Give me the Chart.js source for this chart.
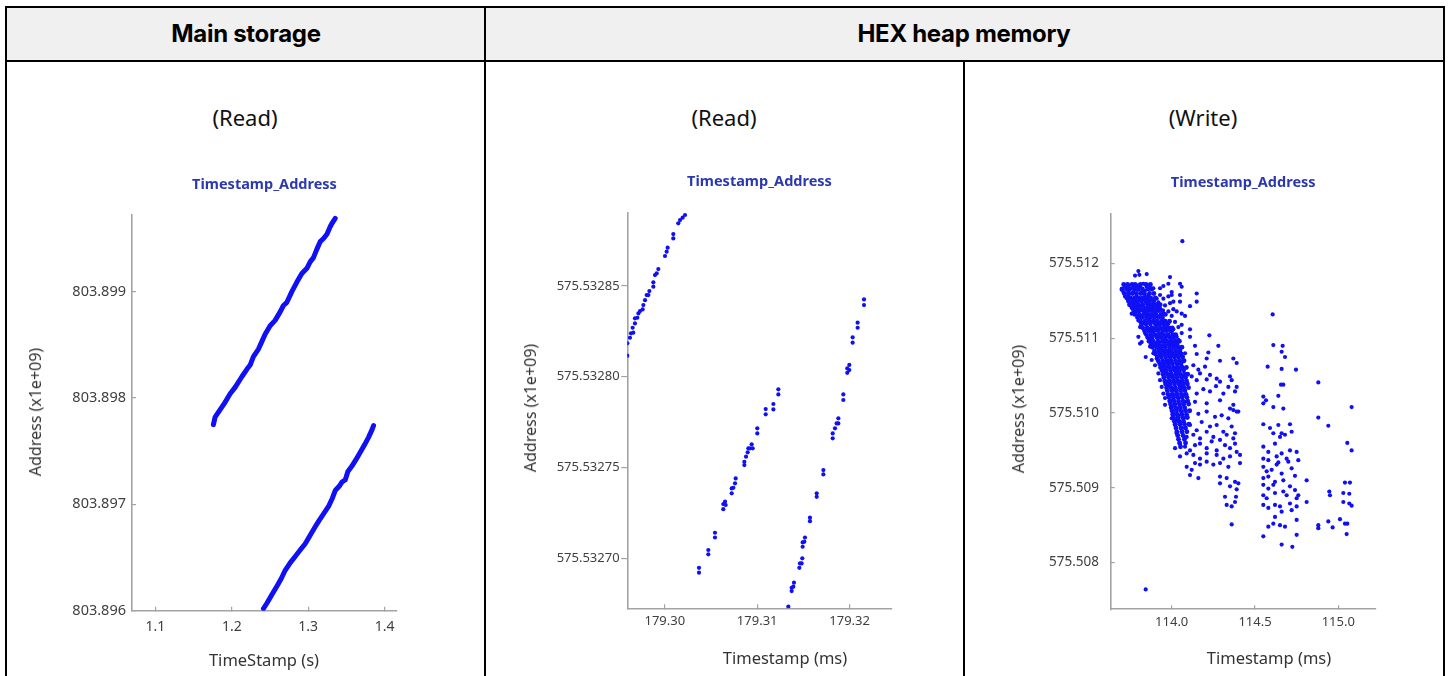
<!DOCTYPE html>
<html>
<head>
<meta charset="utf-8">
<script src="https://cdn.jsdelivr.net/npm/chart.js@4.4.1/dist/chart.umd.min.js"></script>
<style>
  html, body { margin: 0; padding: 0; background: #fff; }
  #page { position: relative; width: 1451px; height: 676px; overflow: hidden; font-family: "Noto Sans", sans-serif; }
  .rule { position: absolute; background: #000; }
  .head { position: absolute; left: 7px; top: 8px; width: 1436px; height: 52px; background: #f0f0f0; }
  .htxt { position: absolute; top: 33px; transform: translate(-50%, -50%); font-family: Inter, sans-serif; font-weight: 700; font-size: 24px; color: #000; white-space: nowrap; letter-spacing: -0.3px; }
  .mode { position: absolute; top: 117px; transform: translate(-50%, -50%); font-size: 22px; color: #111; white-space: nowrap; }
  .xt { position: absolute; transform: translate(-50%, -50%); font-size: 16.5px; color: #333; white-space: nowrap; }
  .yt { position: absolute; transform: translate(-50%, -50%) rotate(-90deg); font-size: 16px; color: #333; white-space: nowrap; }
  canvas { position: absolute; }
</style>
</head>
<body>
<div id="page">
  <div class="head"></div>
  <div class="rule" style="left:5px;top:6px;width:1440px;height:2px"></div>
  <div class="rule" style="left:5px;top:60px;width:1440px;height:2px"></div>
  <div class="rule" style="left:5px;top:6px;width:2px;height:670px"></div>
  <div class="rule" style="left:1443px;top:6px;width:2px;height:670px"></div>
  <div class="rule" style="left:484px;top:6px;width:2px;height:670px"></div>
  <div class="rule" style="left:963px;top:60px;width:2px;height:616px"></div>

  <div class="htxt" style="left:246px">Main storage</div>
  <div class="htxt" style="left:964px">HEX heap memory</div>

  <div class="mode" style="left:245px">(Read)</div>
  <div class="mode" style="left:724px">(Read)</div>
  <div class="mode" style="left:1203px">(Write)</div>

  <canvas id="c1" width="400" height="516" style="left:20px;top:160px"></canvas>
  <canvas id="c2" width="420" height="516" style="left:500px;top:160px"></canvas>
  <canvas id="c3" width="440" height="516" style="left:990px;top:160px"></canvas>

  <div class="xt" style="left:264px;top:659px">TimeStamp (s)</div>
  <div class="xt" style="left:785px;top:657px">Timestamp (ms)</div>
  <div class="xt" style="left:1269px;top:657px">Timestamp (ms)</div>

  <div class="yt" style="left:35px;top:412px">Address (x1e+09)</div>
  <div class="yt" style="left:530px;top:408px">Address (x1e+09)</div>
  <div class="yt" style="left:1018px;top:409px">Address (x1e+09)</div>
</div>

<script>
// ---- Main storage, read accesses (time in s, address x1e+09) ----
const storageRunATime = [1.1759,1.1781,1.1847,1.1912,1.1978,1.2043,1.2131,1.2197,1.2240,1.2283,1.2349,1.2393,1.2436,1.2502,1.2567,1.2633,1.2676,1.2721,1.2786,1.2852,1.2917,1.2983,1.3026,1.3069,1.3114,1.3157,1.3201,1.3245,1.3288,1.3318,1.3354];
const storageRunAAddr = [803.89775,803.89782,803.89789,803.89796,803.89804,803.89810,803.89820,803.89827,803.89831,803.89839,803.89846,803.89853,803.89860,803.89868,803.89873,803.89881,803.89887,803.89890,803.89900,803.89909,803.89917,803.89922,803.89928,803.89932,803.89940,803.89947,803.89950,803.89954,803.89961,803.89965,803.89969];
const storageRunBTime = [1.2414,1.2459,1.2524,1.2590,1.2646,1.2699,1.2764,1.2830,1.2895,1.2961,1.3026,1.3092,1.3144,1.3201,1.3266,1.3318,1.3354,1.3406,1.3442,1.3485,1.3520,1.3573,1.3625,1.3682,1.3738,1.3790,1.3835,1.3856];
const storageRunBAddr = [803.89602,803.89607,803.89615,803.89623,803.89630,803.89638,803.89645,803.89651,803.89657,803.89663,803.89671,803.89679,803.89685,803.89691,803.89698,803.89706,803.89713,803.89717,803.89721,803.89723,803.89731,803.89736,803.89742,803.89749,803.89756,803.89763,803.89770,803.89774];
const storageTimeTicks = [1.1, 1.2, 1.3, 1.4];
const storageAddrTicks = [803.896, 803.897, 803.898, 803.899];

// ---- HEX heap memory, read accesses (time in ms, address x1e+09) ----
const heapReadRun1 = [
  [179.29594,575.5328116],[179.29594,575.5328184],[179.29623,575.5328215],[179.29634,575.5328239],
  [179.29659,575.5328243],[179.29652,575.5328270],[179.29677,575.5328294],[179.29677,575.5328322],
  [179.29703,575.5328325],[179.29714,575.5328349],[179.29732,575.5328362],[179.29760,575.5328371],
  [179.29768,575.5328395],[179.29786,575.5328422],[179.29804,575.5328450],[179.29822,575.5328450],
  [179.29833,575.5328472],[179.29876,575.5328496],[179.29876,575.5328520],[179.29894,575.5328560],
  [179.29912,575.5328569],[179.29930,575.5328593],[179.30002,575.5328665],[179.30020,575.5328689],
  [179.30031,575.5328711],[179.30092,575.5328762],[179.30092,575.5328786],[179.30146,575.5328845],
  [179.30165,575.5328863],[179.30193,575.5328876],[179.30219,575.5328891]
];
const heapReadRun2 = [
  [179.30370,575.5326948],[179.30370,575.5326921],[179.30471,575.5327046],[179.30471,575.5327022],
  [179.30543,575.5327141],[179.30543,575.5327115],[179.30633,575.5327299],[179.30633,575.5327271],
  [179.30652,575.5327312],[179.30659,575.5327294],[179.30724,575.5327385],[179.30724,575.5327358],
  [179.30742,575.5327389],[179.30760,575.5327413],[179.30767,575.5327440],[179.30861,575.5327532],
  [179.30861,575.5327514],[179.30879,575.5327560],[179.30897,575.5327584],[179.30904,575.5327606],
  [179.30922,575.5327606],[179.30940,575.5327628],[179.30951,575.5327606],[179.31001,575.5327716],
  [179.31001,575.5327688],[179.31092,575.5327822],[179.31092,575.5327793],[179.31175,575.5327850],
  [179.31175,575.5327820],[179.31229,575.5327931],[179.31229,575.5327903]
];
const heapReadRun3 = [
  [179.31337,575.5326734],[179.31373,575.5326820],[179.31373,575.5326838],[179.31391,575.5326844],
  [179.31398,575.5326866],[179.31456,575.5326948],[179.31463,575.5326972],[179.31481,575.5326972],
  [179.31488,575.5327000],[179.31492,575.5327064],[179.31492,575.5327088],[179.31510,575.5327092],
  [179.31517,575.5327115],[179.31571,575.5327224],[179.31571,575.5327205],[179.31644,575.5327358],
  [179.31644,575.5327339],[179.31716,575.5327486],[179.31716,575.5327462],[179.31817,575.5327688],
  [179.31817,575.5327661],[179.31842,575.5327716],[179.31860,575.5327743],[179.31878,575.5327771],
  [179.31878,575.5327743],[179.31932,575.5327903],[179.31932,575.5327872],[179.31975,575.5328022],
  [179.31975,575.5328046],[179.31997,575.5328065],[179.31997,575.5328037],[179.32033,575.5328217],
  [179.32033,575.5328188],[179.32087,575.5328298],[179.32087,575.5328270],[179.32156,575.5328426],
  [179.32156,575.5328395]
];
const heapReadTimeTicks = [179.30, 179.31, 179.32];
const heapReadAddrTicks = [575.53270, 575.53275, 575.53280, 575.53285];

// ---- HEX heap memory, write accesses (time in ms, address x1e+09) ----
// dense early burst, listed row by row: [address, [timestamps...]]
const heapWriteCoreRows = [
  [575.51172, [113.712,113.735,113.762,113.781,113.812,113.846,113.872]],
  [575.51166, [113.702,113.728,113.748,113.776,113.797,113.824,113.858,113.881]],
  [575.51160, [113.716,113.742,113.765,113.789,113.815,113.836,113.867,113.893]],
  [575.51154, [113.731,113.752,113.778,113.803,113.827,113.851,113.874,113.902]],
  [575.51150, [113.740,113.766,113.796,113.819,113.843,113.866,113.892]],
  [575.51145, [113.747,113.773,113.798,113.826,113.857,113.879,113.907,113.931]],
  [575.51141, [113.762,113.787,113.811,113.838,113.862,113.888,113.914]],
  [575.51137, [113.772,113.803,113.829,113.853,113.876,113.899,113.922,113.946]],
  [575.51132, [113.779,113.806,113.832,113.861,113.884,113.907,113.936,113.962]],
  [575.51128, [113.795,113.821,113.848,113.872,113.896,113.921,113.944]],
  [575.51123, [113.812,113.838,113.866,113.889,113.911,113.938,113.961,113.987]],
  [575.51119, [113.818,113.846,113.872,113.902,113.928,113.951,113.973]],
  [575.51114, [113.826,113.853,113.882,113.907,113.934,113.957,113.985,114.003]],
  [575.51110, [113.837,113.862,113.893,113.918,113.946,113.968,113.992]],
  [575.51105, [113.848,113.874,113.899,113.926,113.952,113.978,114.006,114.024]],
  [575.51101, [113.856,113.883,113.912,113.937,113.963,113.989,114.012]],
  [575.51096, [113.864,113.889,113.918,113.944,113.971,113.997,114.021,114.046]],
  [575.51092, [113.877,113.903,113.927,113.956,113.982,114.006,114.032]],
  [575.51088, [113.884,113.911,113.938,113.962,113.988,114.013,114.038,114.061]],
  [575.51083, [113.897,113.922,113.948,113.973,113.999,114.024,114.049]],
  [575.51079, [113.903,113.931,113.956,113.982,114.006,114.031,114.057]],
  [575.51075, [113.914,113.938,113.964,113.991,114.016,114.041,114.066]],
  [575.51070, [113.919,113.946,113.972,113.997,114.023,114.048,114.074]],
  [575.51066, [113.928,113.953,113.979,114.004,114.031,114.056]],
  [575.51061, [113.933,113.961,113.986,114.011,114.038,114.063,114.088]],
  [575.51057, [113.942,113.967,113.993,114.018,114.044,114.071]],
  [575.51052, [113.948,113.974,113.998,114.026,114.051,114.077,114.096]],
  [575.51048, [113.953,113.981,114.006,114.031,114.058,114.083]],
  [575.51043, [113.958,113.986,114.012,114.037,114.063,114.089]],
  [575.51039, [113.963,113.991,114.017,114.043,114.069,114.094]],
  [575.51034, [113.969,113.996,114.022,114.049,114.074,114.101]],
  [575.51030, [113.974,114.001,114.027,114.054,114.079]],
  [575.51025, [113.978,114.006,114.031,114.058,114.086]],
  [575.51021, [113.983,114.011,114.036,114.063,114.091]],
  [575.51016, [113.988,114.015,114.041,114.068,114.096]],
  [575.51012, [113.993,114.019,114.046,114.072,114.102]],
  [575.51007, [113.997,114.024,114.051,114.078]],
  [575.51003, [114.002,114.028,114.054,114.083,114.108]],
  [575.50998, [114.006,114.033,114.061,114.089]],
  [575.50994, [114.011,114.038,114.066,114.094]],
  [575.50989, [114.016,114.044,114.071]],
  [575.50985, [114.021,114.049,114.077,114.104]],
  [575.50980, [114.026,114.056,114.083]],
  [575.50975, [114.031,114.062,114.091]],
  [575.50970, [114.036,114.068]],
  [575.50965, [114.041,114.076]],
  [575.50960, [114.047,114.083]],
  [575.50955, [114.053]]
];
const heapWriteEarly = [
  [114.064,575.51230],[113.780,575.51184],[113.800,575.51190],[113.806,575.51185],[113.850,575.51186],[113.990,575.51182],
  [113.700,575.51165],[113.720,575.51169],[113.740,575.51171],[113.754,575.51167],[113.770,575.51170],[113.790,575.51171],
  [113.810,575.51169],[113.830,575.51173],[113.850,575.51169],[113.870,575.51171],[113.890,575.51167],[113.710,575.51162],
  [113.740,575.51162],[113.770,575.51162],[113.800,575.51165],[113.820,575.51162],[113.840,575.51164],[113.930,575.51167],
  [113.950,575.51170],[113.980,575.51173],[114.000,575.51162],[114.050,575.51173],[114.060,575.51169],[114.150,575.51160],
  [113.720,575.51156],[113.740,575.51158],[113.760,575.51153],[113.790,575.51156],[113.820,575.51153],[113.840,575.51156],
  [113.860,575.51158],[113.880,575.51151],[113.910,575.51153],[113.930,575.51158],[113.950,575.51153],[113.980,575.51156],
  [114.000,575.51158],[114.010,575.51149],[114.050,575.51158],[114.050,575.51149],[114.150,575.51149],[113.750,575.51147],
  [113.780,575.51149],[113.810,575.51144],[113.850,575.51147],[113.890,575.51146],[113.920,575.51148],[113.960,575.51144],
  [113.990,575.51147],[114.110,575.51143],[113.760,575.51133],[113.790,575.51136],[113.820,575.51138],[113.840,575.51134],
  [113.870,575.51139],[113.900,575.51136],[113.930,575.51140],[113.950,575.51133],[113.980,575.51136],[114.010,575.51139],
  [114.030,575.51136],[114.060,575.51133],[113.810,575.51130],[113.850,575.51131],[113.910,575.51130],[114.000,575.51130],
  [114.080,575.51130],[113.800,575.51124],[113.830,575.51120],[113.860,575.51125],[113.890,575.51122],[113.920,575.51118],
  [113.950,575.51124],[113.980,575.51120],[114.020,575.51122],[114.040,575.51115],[113.810,575.51115],[113.870,575.51113],
  [113.930,575.51113],[113.970,575.51115],[114.010,575.51112],[114.060,575.51118],[114.110,575.51112],[113.800,575.51102],
  [113.840,575.51107],[113.880,575.51109],[113.910,575.51104],[113.940,575.51107],[113.970,575.51103],[114.000,575.51109],
  [114.030,575.51102],[114.060,575.51107],[114.110,575.51102],[114.226,575.51104],[113.820,575.51095],[113.870,575.51098],
  [113.920,575.51095],[113.960,575.51099],[114.000,575.51094],[114.040,575.51098],[113.810,575.51093],[113.870,575.51089],
  [113.900,575.51091],[113.930,575.51087],[113.960,575.51089],[113.990,575.51084],[114.020,575.51090],[114.050,575.51087],
  [114.080,575.51080],[114.140,575.51090],[114.280,575.51090],[113.890,575.51080],[113.930,575.51078],[113.980,575.51079],
  [114.020,575.51076],[113.844,575.51075],[114.150,575.51079],[114.220,575.51081],[113.880,575.51071],[113.910,575.51073],
  [113.950,575.51069],[113.990,575.51071],[114.030,575.51066],[114.060,575.51069],[114.210,575.51073],[114.290,575.51070],
  [114.370,575.51073],[114.390,575.51067],[113.900,575.51064],[113.940,575.51062],[113.980,575.51064],[114.020,575.51060],
  [114.060,575.51062],[114.130,575.51064],[114.160,575.51058],[114.200,575.51062],[113.920,575.51053],[113.960,575.51055],
  [113.990,575.51051],[114.030,575.51054],[114.070,575.51049],[114.120,575.51049],[114.170,575.51053],[114.230,575.51051],
  [114.270,575.51046],[114.350,575.51049],[113.930,575.51044],[113.970,575.51042],[114.010,575.51044],[114.050,575.51041],
  [114.150,575.51044],[114.210,575.51045],[114.290,575.51042],[114.360,575.51044],[113.940,575.51035],[113.980,575.51037],
  [114.020,575.51033],[114.060,575.51035],[114.150,575.51026],[114.190,575.51032],[114.266,575.51036],[114.340,575.51035],
  [114.390,575.51035],[113.950,575.51026],[113.990,575.51024],[114.030,575.51027],[114.070,575.51024],[114.230,575.51029],
  [114.310,575.51026],[114.380,575.51029],[113.960,575.51020],[114.000,575.51017],[114.040,575.51020],[114.080,575.51015],
  [114.140,575.51015],[114.210,575.51013],[114.290,575.51017],[114.370,575.51011],[113.960,575.51011],[114.000,575.51009],
  [114.030,575.51006],[114.070,575.51011],[114.350,575.51006],[114.390,575.51002]
];
const heapWriteLate = [
  [114.606,575.51132],[114.610,575.51091],[114.666,575.51090],[114.660,575.51082],[114.680,575.51075],[114.576,575.51062],
  [114.660,575.51059],[114.746,575.51058],[114.880,575.51041],[114.656,575.51038],[114.670,575.51038],[114.550,575.51022],
  [114.640,575.51023],[114.566,575.51017],[114.550,575.51013],[114.610,575.51008],[114.670,575.51006],[115.080,575.51008],
  [114.370,575.51004],[114.400,575.51002],[114.010,575.50999],[114.040,575.50997],[114.060,575.51002],[114.090,575.50995],
  [114.160,575.50999],[114.210,575.51002],[114.260,575.50995],[114.300,575.50997],[114.340,575.50993],[114.000,575.50993],
  [114.030,575.50991],[114.070,575.50993],[114.020,575.50984],[114.050,575.50986],[114.080,575.50980],[114.110,575.50984],
  [114.150,575.50977],[114.180,575.50988],[114.230,575.50982],[114.270,575.50984],[114.310,575.50975],[114.360,575.50982],
  [114.380,575.50973],[114.550,575.50985],[114.590,575.50980],[114.640,575.50984],[114.660,575.50973],[114.710,575.50985],
  [114.720,575.50975],[114.880,575.50994],[114.940,575.50983],[114.030,575.50973],[114.060,575.50975],[114.090,575.50968],
  [114.130,575.50971],[114.170,575.50966],[114.210,575.50975],[114.250,575.50968],[114.290,575.50964],[114.330,575.50971],
  [114.370,575.50966],[114.610,575.50973],[114.650,575.50968],[114.680,575.50971],[114.020,575.50953],[114.050,575.50959],
  [114.080,575.50955],[114.110,575.50950],[114.140,575.50957],[114.170,575.50959],[114.210,575.50953],[114.240,575.50962],
  [114.270,575.50950],[114.320,575.50957],[114.350,575.50953],[114.380,575.50959],[114.410,575.50944],[114.550,575.50955],
  [114.580,575.50948],[114.620,575.50959],[114.660,575.50946],[114.710,575.50950],[114.750,575.50948],[115.054,575.50960],
  [115.080,575.50950],[114.050,575.50942],[114.090,575.50946],[114.130,575.50944],[114.170,575.50939],[114.210,575.50946],
  [114.270,575.50944],[114.310,575.50939],[114.350,575.50942],[114.390,575.50948],[114.550,575.50939],[114.580,575.50937],
  [114.630,575.50942],[114.690,575.50939],[114.760,575.50937],[114.090,575.50928],[114.120,575.50924],[114.140,575.50933],
  [114.170,575.50931],[114.210,575.50935],[114.250,575.50931],[114.290,575.50933],[114.340,575.50928],[114.410,575.50933],
  [114.110,575.50917],[114.160,575.50913],[114.290,575.50915],[114.330,575.50913],[114.380,575.50908],[114.550,575.50928],
  [114.570,575.50922],[114.600,575.50924],[114.630,575.50931],[114.660,575.50919],[114.720,575.50926],[114.550,575.50913],
  [114.580,575.50915],[114.620,575.50908],[114.670,575.50910],[114.740,575.50916],[114.810,575.50910],[114.640,575.50934],
  [114.700,575.50935],[114.290,575.50906],[114.350,575.50902],[114.390,575.50898],[114.400,575.50906],[114.550,575.50904],
  [114.580,575.50899],[114.610,575.50904],[114.670,575.50895],[114.710,575.50902],[114.740,575.50897],[114.760,575.50890],
  [114.320,575.50888],[114.386,575.50888],[114.550,575.50890],[114.570,575.50886],[114.620,575.50893],[114.690,575.50890],
  [114.750,575.50886],[114.810,575.50881],[114.946,575.50895],[114.950,575.50890],[115.040,575.50907],[115.070,575.50907],
  [115.030,575.50893],[115.066,575.50892],[114.330,575.50877],[114.360,575.50875],[114.380,575.50881],[114.550,575.50877],
  [114.580,575.50873],[114.620,575.50877],[114.650,575.50875],[114.660,575.50868],[114.710,575.50879],[114.720,575.50870],
  [114.750,575.50875],[115.030,575.50881],[115.066,575.50879],[115.080,575.50876],[114.620,575.50861],[114.360,575.50851],
  [114.580,575.50848],[114.610,575.50852],[114.650,575.50850],[114.680,575.50848],[114.750,575.50857],[114.880,575.50850],
  [114.880,575.50846],[114.940,575.50855],[114.966,575.50847],[115.010,575.50858],[115.040,575.50852],[115.054,575.50852],
  [114.550,575.50835],[114.660,575.50824],[114.724,575.50821],[114.750,575.50837],[115.050,575.50838],[113.844,575.50764]
];
const heapWriteTimeTicks = [114.0, 114.5, 115.0];
const heapWriteAddrTicks = [575.508, 575.509, 575.510, 575.511, 575.512];

// ---- shared drawing helpers ----
const DOT = 'rgb(16, 16, 245)';
const TICK_FONT = 'Noto Sans';
const AXIS_GREY = '#a3a3a3';

const toPoints = (xs, ys) => xs.map((x, i) => ({ x, y: ys[i] }));
const fromPairs = pairs => pairs.map(([x, y]) => ({ x, y }));
const fromRows = rows => rows.flatMap(([y, xs]) => xs.map(x => ({ x, y })));

function axis(opts) {
  return {
    type: 'linear',
    position: opts.position,
    min: opts.min,
    max: opts.max,
    afterBuildTicks: s => { s.ticks = opts.ticks.map(v => ({ value: v })); },
    afterFit: s => {
      if (opts.position === 'left') s.width = opts.size; else s.height = opts.size;
    },
    grid: { display: true, drawOnChartArea: false, drawTicks: true, tickLength: opts.tickLength, color: AXIS_GREY, lineWidth: 1.2 },
    border: { display: true, color: AXIS_GREY, width: 1.6 },
    ticks: {
      autoSkip: false,
      maxRotation: 0,
      padding: opts.padding,
      color: '#404040',
      font: { family: TICK_FONT, size: opts.fontSize },
      callback: v => Number(v).toFixed(opts.decimals)
    }
  };
}

function scatterChart(id, datasets, x, y, layoutRight, titlePad) {
  return new Chart(document.getElementById(id), {
    type: 'scatter',
    data: { datasets },
    options: {
      responsive: false,
      animation: false,
      events: [],
      layout: { padding: { left: 0, right: layoutRight, top: 0, bottom: 0 } },
      plugins: {
        legend: { display: false },
        tooltip: { enabled: false },
        title: {
          display: true,
          text: 'Timestamp_Address',
          fullSize: false,
          color: '#2b39b0',
          font: { family: TICK_FONT, size: 14.5, weight: 'bold' },
          padding: titlePad
        }
      },
      scales: { x: axis(x), y: axis(y) }
    }
  });
}

// Main storage: two sequential read sweeps form dense diagonal bands
const bandStyle = { showLine: true, borderColor: DOT, backgroundColor: DOT, borderWidth: 5, borderCapStyle: 'round', borderJoinStyle: 'round', pointRadius: 0 };
scatterChart('c1', [
  Object.assign({ data: toPoints(storageRunATime, storageRunAAddr) }, bandStyle),
  Object.assign({ data: toPoints(storageRunBTime, storageRunBAddr) }, bandStyle)
],
  { position: 'bottom', min: 1.0693, max: 1.4163, ticks: storageTimeTicks, decimals: 1, size: 65.3, tickLength: -4, padding: 11.6, fontSize: 14 },
  { position: 'left', min: 803.896, max: 803.89972, ticks: storageAddrTicks, decimals: 3, size: 112, tickLength: -4, padding: 10, fontSize: 14.5 },
  23, { top: 16.3, bottom: 21.4 });

// HEX heap memory reads: three strided runs of paired accesses
const readStyle = { pointRadius: 2.1, pointBorderWidth: 0, pointBackgroundColor: DOT };
scatterChart('c2', [
  Object.assign({ data: fromPairs(heapReadRun1) }, readStyle),
  Object.assign({ data: fromPairs(heapReadRun2) }, readStyle),
  Object.assign({ data: fromPairs(heapReadRun3) }, readStyle)
],
  { position: 'bottom', min: 179.295942, max: 179.324556, ticks: heapReadTimeTicks, decimals: 2, size: 67.7, tickLength: -4, padding: 9.6, fontSize: 13 },
  { position: 'left', min: 575.5326725, max: 575.5328903, ticks: heapReadAddrTicks, decimals: 5, size: 127.3, tickLength: 6, padding: 1.7, fontSize: 13 },
  28.3, { top: 13.6, bottom: 21.8 });

// HEX heap memory writes: a dense early burst, then scattered accesses drifting down
const writeStyle = { pointRadius: 2.1, pointBorderWidth: 0, pointBackgroundColor: DOT };
scatterChart('c3', [
  Object.assign({ data: fromRows(heapWriteCoreRows) }, writeStyle, { pointRadius: 2.45 }),
  Object.assign({ data: fromPairs(heapWriteEarly) }, writeStyle),
  Object.assign({ data: fromPairs(heapWriteLate) }, writeStyle)
],
  { position: 'bottom', min: 113.6339, max: 115.2245, ticks: heapWriteTimeTicks, decimals: 1, size: 66.7, tickLength: -4, padding: 9.6, fontSize: 13 },
  { position: 'left', min: 575.507374, max: 575.5126716, ticks: heapWriteAddrTicks, decimals: 3, size: 120.7, tickLength: -4, padding: 15.7, fontSize: 13.5 },
  54.3, { top: 14.0, bottom: 22.0 });
</script>
</body>
</html>
